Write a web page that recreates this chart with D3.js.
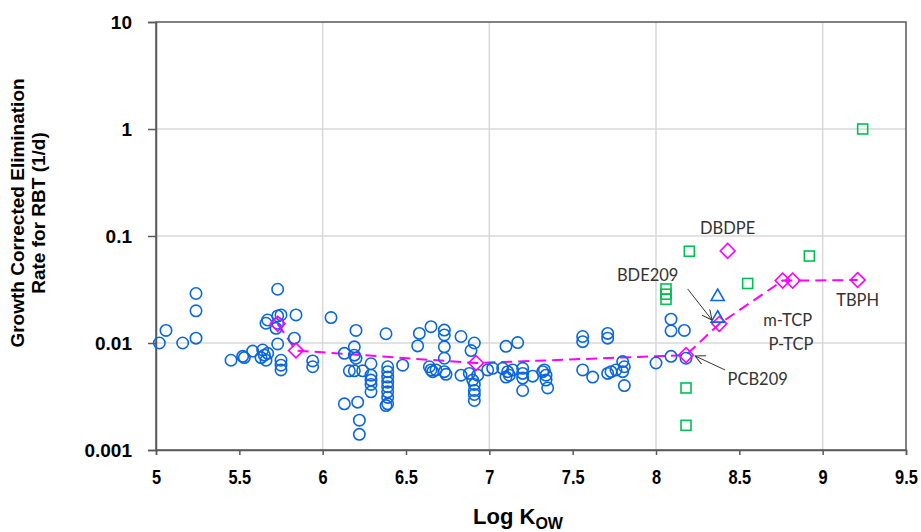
<!DOCTYPE html>
<html><head><meta charset="utf-8">
<script src="https://cdn.jsdelivr.net/npm/d3@7"></script>
<style>body{margin:0;background:#fff}</style>
</head><body>
<svg id="chart" width="921" height="532"></svg>
<script>
const xTicks = [5,5.5,6,6.5,7,7.5,8,8.5,9,9.5];
const xTickLabels = ["5","5.5","6","6.5","7","7.5","8","8.5","9","9.5"];
const xGrid = [6,7,8,9];
const yTicks = [0.001,0.01,0.1,1,10];
const yTickLabels = ["0.001","0.01","0.1","1","10"];

// blue circles: [logKow, rate]
const circles = [
 [5.02,0.0100],[5.06,0.0131],[5.16,0.0100],[5.24,0.029],[5.24,0.020],[5.24,0.0111],
 [5.45,0.0069],[5.53,0.0073],[5.52,0.0075],[5.58,0.0084],[5.64,0.0086],[5.65,0.0077],
 [5.63,0.0073],[5.66,0.0069],[5.67,0.0080],[5.73,0.0318],[5.67,0.0164],[5.66,0.0153],
 [5.73,0.0179],[5.75,0.0183],[5.73,0.0153],[5.72,0.0137],[5.73,0.0098],[5.75,0.0069],
 [5.75,0.0062],[5.75,0.0056],[5.84,0.0183],[5.83,0.0111],[5.94,0.0068],[5.94,0.0060],
 [6.05,0.0173],[6.13,0.0080],[6.13,0.0027],[6.19,0.0092],[6.20,0.0131],[6.19,0.0077],
 [6.20,0.0072],[6.16,0.0055],[6.19,0.0055],[6.24,0.0055],[6.21,0.0028],[6.22,0.0019],
 [6.22,0.0014],[6.29,0.0064],[6.29,0.0050],[6.29,0.0045],[6.29,0.0041],[6.29,0.0035],
 [6.38,0.0122],[6.39,0.0060],[6.39,0.0054],[6.39,0.0048],[6.39,0.0043],[6.39,0.0039],
 [6.39,0.0035],[6.39,0.0031],[6.39,0.0027],[6.38,0.0026],[6.48,0.0062],
 [6.58,0.0123],[6.57,0.0094],[6.65,0.0142],[6.64,0.0060],[6.65,0.0056],[6.66,0.0054],
 [6.68,0.0056],[6.73,0.0132],[6.73,0.0119],[6.73,0.0092],[6.73,0.0072],[6.73,0.0054],
 [6.74,0.0051],[6.83,0.0115],[6.83,0.0050],[6.89,0.0085],[6.91,0.0100],[6.88,0.0052],
 [6.90,0.0045],[6.91,0.0041],[6.91,0.0036],[6.91,0.0033],[6.91,0.0029],[6.93,0.0050],
 [6.99,0.0056],[7.02,0.0058],
 [7.10,0.0093],[7.17,0.0101],[7.08,0.0058],[7.11,0.0054],[7.12,0.0050],[7.10,0.0048],
 [7.20,0.0058],[7.20,0.0052],[7.20,0.0047],[7.20,0.0036],[7.14,0.0056],[7.26,0.0049],
 [7.33,0.0056],[7.34,0.0050],[7.34,0.0045],[7.35,0.0038],[7.32,0.0054],
 [7.56,0.0115],[7.56,0.0103],[7.56,0.0056],[7.62,0.0048],[7.71,0.0123],[7.71,0.0111],
 [7.71,0.0052],[7.73,0.0054],[7.76,0.0056],[7.80,0.0067],[7.81,0.0060],[7.80,0.0054],
 [7.81,0.0040],
 [8.00,0.0065],[8.09,0.0167],[8.09,0.0130],[8.09,0.0075],[8.17,0.0131],[8.18,0.0072]
];
// green squares
const squares = [
 [9.24,1.0],[8.20,0.072],[8.92,0.065],[8.55,0.036],[8.06,0.032],[8.06,0.0286],
 [8.06,0.0256],[8.18,0.0038],[8.18,0.0017]
];
// magenta diamonds joined by dashed line
const lineDiamonds = [
 [5.73,0.0151],[5.84,0.0085],[6.92,0.0065],[8.18,0.0077],[8.38,0.0151],
 [8.76,0.0383],[8.82,0.0383],[9.21,0.0388]
];
const soloDiamonds = [[8.43,0.0726]];
// blue triangles
const triangles = [[8.37,0.0271],[8.37,0.0170]];

const labelText = ["DBDPE","BDE209","TBPH","m-TCP","P-TCP","PCB209"];
const labelX = [8.43,7.95,9.21,8.79,8.81,8.61];
const labelY = [0.12,0.0433,0.0252,0.0164,0.0097,0.00457];
// arrows: [x1,y1,x2,y2]
const arrows = [[8.19,0.032,8.336,0.0164],[8.415,0.00559,8.235,0.00756]];

const W = 921, H = 532;
const m = {left:156, right:15, top:22, bottom:82};
const svg = d3.select("#chart");
const x = d3.scaleLinear().domain([5,9.5]).range([m.left, W-m.right]);
const y = d3.scaleLog().domain([0.001,10]).range([H-m.bottom, m.top]);

const gridC = "#d9d9d9", axisC = "#595959";
// grid
svg.append("g").selectAll("line").data(xGrid).join("line")
  .attr("x1",d=>x(d)).attr("x2",d=>x(d)).attr("y1",m.top).attr("y2",H-m.bottom)
  .attr("stroke",gridC).attr("stroke-width",1.5);
svg.append("g").selectAll("line").data([0.01,0.1,1]).join("line")
  .attr("y1",d=>y(d)).attr("y2",d=>y(d)).attr("x1",m.left).attr("x2",W-m.right)
  .attr("stroke",gridC).attr("stroke-width",1.5);

// frame
svg.append("rect").attr("x",m.left).attr("y",m.top)
  .attr("width",W-m.right-m.left).attr("height",H-m.bottom-m.top)
  .attr("fill","none").attr("stroke",axisC).attr("stroke-width",1.5);

// axes
const xAxis = svg.append("g").attr("transform",`translate(0,${H-m.bottom})`)
  .call(d3.axisBottom(x).tickValues(xTicks).tickFormat((d,i)=>xTickLabels[i]).tickSize(5).tickPadding(0));
const yAxis = svg.append("g").attr("transform",`translate(${m.left},0)`)
  .call(d3.axisLeft(y).tickValues(yTicks).tickFormat((d,i)=>yTickLabels[i]).tickSize(8).tickPadding(16));
[xAxis,yAxis].forEach(g=>{
  g.select(".domain").attr("stroke",axisC).attr("stroke-width",1.5);
  g.selectAll(".tick line").attr("stroke",axisC).attr("stroke-width",1.5);
  g.selectAll(".tick text").attr("fill","#000").attr("font-family","Liberation Sans, Arial, sans-serif")
   .attr("font-weight","bold");
});
xAxis.selectAll(".tick text").attr("font-size",20).attr("y",0).attr("dy",0)
  .attr("transform","translate(0,34) scale(0.82,1)");
yAxis.selectAll(".tick text").attr("font-size",19).attr("dy","0.35em");

// axis titles
const yl = svg.append("text").attr("transform","translate(34,213) rotate(-90)")
  .attr("text-anchor","middle").attr("font-family","Liberation Sans, Arial, sans-serif")
  .attr("font-weight","bold").attr("font-size",19).attr("fill","#000");
yl.append("tspan").attr("x",0).attr("dy","-0.55em").text("Growth Corrected Elimination");
yl.append("tspan").attr("x",0).attr("dy","1.15em").text("Rate for RBT (1/d)");

const xl = svg.append("text").attr("x",518).attr("y",524).attr("text-anchor","middle")
  .attr("font-family","Liberation Sans, Arial, sans-serif").attr("font-weight","bold")
  .attr("font-size",22).attr("fill","#000");
xl.append("tspan").text("Log K");
xl.append("tspan").attr("font-size",16).attr("dy",5).text("OW");

// dashed line
svg.append("path").datum(lineDiamonds)
  .attr("d", d3.line().x(d=>x(d[0])).y(d=>y(d[1])))
  .attr("fill","none").attr("stroke","#ff00ff").attr("stroke-width",2)
  .attr("stroke-dasharray","11,6");

// circles
svg.append("g").selectAll("circle").data(circles).join("circle")
  .attr("cx",d=>x(d[0])).attr("cy",d=>y(d[1])).attr("r",5.7)
  .attr("fill","none").attr("stroke","#0a66dd").attr("stroke-width",1.6);

// squares
svg.append("g").selectAll("rect").data(squares).join("rect")
  .attr("x",d=>x(d[0])-5).attr("y",d=>y(d[1])-5).attr("width",10).attr("height",10)
  .attr("fill","none").attr("stroke","#00c050").attr("stroke-width",1.6);

// diamonds
const diamond = d3.symbol().type(d3.symbolSquare).size(110);
svg.append("g").selectAll("path").data(lineDiamonds.concat(soloDiamonds)).join("path")
  .attr("d",diamond).attr("transform",d=>`translate(${x(d[0])},${y(d[1])}) rotate(45)`)
  .attr("fill","none").attr("stroke","#ff00ff").attr("stroke-width",1.6);

// triangles
const tri = d3.symbol().type(d3.symbolTriangle).size(75);
svg.append("g").selectAll("path").data(triangles).join("path")
  .attr("d",tri).attr("transform",d=>`translate(${x(d[0])},${y(d[1])})`)
  .attr("fill","none").attr("stroke","#0a66dd").attr("stroke-width",1.6);

// arrows
svg.append("defs").append("marker").attr("id","ah").attr("viewBox","0 0 10 10")
  .attr("refX",10).attr("refY",5).attr("markerWidth",10).attr("markerHeight",10)
  .attr("markerUnits","userSpaceOnUse").attr("orient","auto")
  .append("path").attr("d","M0,0 L10,5 L0,10").attr("fill","none").attr("stroke","#333").attr("stroke-width",1);
svg.append("g").selectAll("line").data(arrows).join("line")
  .attr("x1",d=>x(d[0])).attr("y1",d=>y(d[1])).attr("x2",d=>x(d[2])).attr("y2",d=>y(d[3]))
  .attr("stroke","#333").attr("stroke-width",1).attr("marker-end","url(#ah)");

// labels
svg.append("g").selectAll("text").data(labelText).join("text")
  .attr("x",(d,i)=>x(labelX[i])).attr("y",(d,i)=>y(labelY[i]))
  .attr("text-anchor","middle").attr("dominant-baseline","central")
  .attr("font-family","Lato, 'Open Sans', sans-serif").attr("font-size",16.5).attr("fill","#333")
  .text(d=>d);
</script>
</body></html>
